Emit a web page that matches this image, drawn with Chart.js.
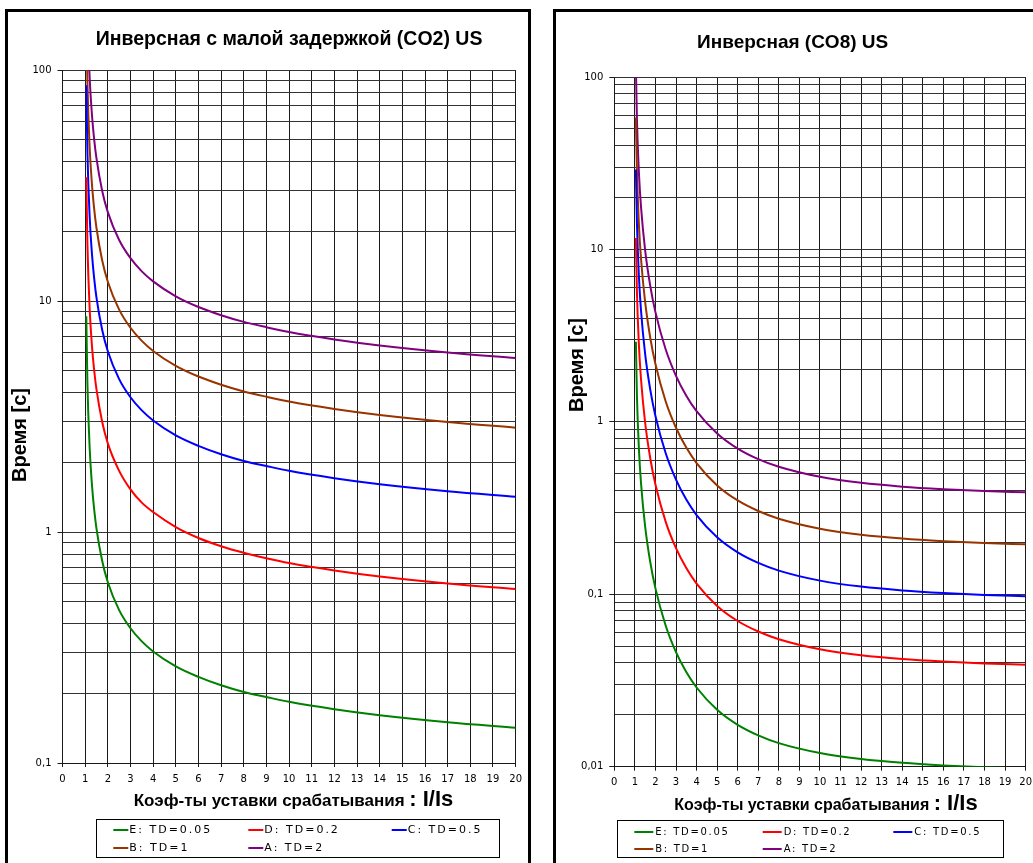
<!DOCTYPE html>
<html>
<head>
<meta charset="utf-8">
<script src="https://cdn.jsdelivr.net/npm/chart.js@4.4.0/dist/chart.umd.min.js"></script>
<style>
html,body{margin:0;padding:0;background:#fff;overflow:hidden;width:1033px;height:863px;}
.box{position:absolute;border:3px solid #000;box-sizing:border-box;background:#fff;}
canvas{position:absolute;}
</style>
</head>
<body>
<div class="box" style="left:5px;top:9px;width:526px;height:900px"></div>
<div class="box" style="left:553px;top:9px;width:500px;height:900px"></div>
<canvas id="c1" width="520" height="851" style="left:8px;top:12px"></canvas>
<canvas id="c2" width="482" height="851" style="left:556px;top:12px"></canvas>
<script>
// ---------- DATA ----------
const seriesNames = ['E: TD=0.05', 'D: TD=0.2', 'C: TD=0.5', 'B: TD=1', 'A: TD=2'];
const seriesColors = ['#008000', '#FF0000', '#0000FF', '#993300', '#800080'];
const xTickLabels = ['0','1','2','3','4','5','6','7','8','9','10','11','12','13','14','15','16','17','18','19','20'];

// Chart 1: short inverse (CO2) US
const titleCO2 = 'Инверсная с малой задержкой (CO2) US';
const yTickLabelsCO2 = ['0,1', '1', '10', '100'];
const multipleCO2 = [1.05,1.1,1.2,1.3,1.4,1.5,1.75,2,2.5,3,3.5,4,5,6,7,8,9,10,12,14,17,20];
const co2_E = [8.589,4.398,2.300,1.599,1.247,1.035,0.751,0.606,0.459,0.383,0.336,0.304,0.262,0.236,0.217,0.203,0.193,0.184,0.171,0.161,0.150,0.142];
const co2_D = [34.35,17.59,9.20,6.39,4.99,4.14,3.00,2.42,1.84,1.53,1.34,1.22,1.05,0.942,0.868,0.813,0.770,0.734,0.682,0.642,0.598,0.566];
const co2_C = [85.9,43.98,23.0,15.99,12.47,10.35,7.51,6.06,4.59,3.83,3.36,3.04,2.62,2.36,2.17,2.03,1.93,1.84,1.71,1.61,1.50,1.42];
const co2_B = [171.8,87.95,45.99,31.97,24.94,20.70,15.01,12.12,9.18,7.66,6.72,6.08,5.24,4.71,4.34,4.06,3.85,3.67,3.41,3.21,2.99,2.83];
const co2_A = [343.5,175.9,91.98,63.94,49.88,41.40,30.02,24.24,18.36,15.32,13.44,12.16,10.48,9.42,8.68,8.12,7.70,7.34,6.82,6.42,5.98,5.66];

// Chart 2: inverse (CO8) US
const titleCO8 = 'Инверсная (CO8) US';
const yTickLabelsCO8 = ['0,01', '0,1', '1', '10', '100'];
const multipleCO8 = [1.05,1.1,1.2,1.3,1.5,1.75,2,2.5,3,3.5,4,5,6,7,8,10,12,14,16,18,20];
const co8_E = [2.912,1.426,0.685,0.440,0.247,0.1533,0.1082,0.0657,0.0462,0.0354,0.0288,0.0214,0.0175,0.0152,0.0137,0.0120,0.01108,0.01053,0.01017,0.00992,0.00975];
const co8_D = [11.65,5.70,2.74,1.76,0.988,0.613,0.433,0.263,0.185,0.1418,0.1153,0.0856,0.0700,0.0608,0.0549,0.0480,0.0443,0.0421,0.0407,0.0397,0.0390];
const co8_C = [29.11,14.26,6.85,4.40,2.47,1.533,1.082,0.657,0.462,0.354,0.288,0.214,0.175,0.152,0.1372,0.1200,0.1108,0.1053,0.1017,0.0992,0.0975];
const co8_B = [58.23,28.51,13.70,8.80,4.94,3.065,2.163,1.313,0.924,0.709,0.577,0.428,0.350,0.304,0.2744,0.2401,0.2216,0.2105,0.2033,0.1984,0.1949];
const co8_A = [116.5,57.0,27.4,17.6,9.88,6.13,4.33,2.63,1.85,1.418,1.153,0.856,0.700,0.608,0.549,0.480,0.443,0.421,0.407,0.397,0.390];

const yAxisTitle = 'Время [с]';
const xAxisTitleMain = 'Коэф-ты уставки срабатывания ';
const xAxisTitleUnit = ': I/Is';

// ---------- HELPERS ----------
function isDecade(v) {
  const l = Math.log10(v);
  return Math.abs(l - Math.round(l)) < 1e-6;
}
function labelFromList(list, v) {
  for (const s of list) {
    const n = parseFloat(s.replace(',', '.'));
    if (Math.abs(n - v) / n < 1e-6) return s;
  }
  return '';
}
function logGridValues(min, max) {
  const out = [];
  const e0 = Math.round(Math.log10(min)), e1 = Math.round(Math.log10(max));
  for (let e = e0; e < e1; e++) {
    for (let s = 1; s <= 9; s++) out.push(parseFloat((s * Math.pow(10, e)).toPrecision(6)));
  }
  out.push(max);
  return out;
}

const decorPlugin = {
  id: 'decor',
  afterDraw(chart, args, o) {
    const ctx = chart.ctx, ca = chart.chartArea;
    // Y title
    ctx.save();
    ctx.fillStyle = '#000';
    ctx.font = 'bold 20px "Liberation Sans", Arial, sans-serif';
    ctx.translate(o.yTitleX, o.yTitleY);
    ctx.rotate(-Math.PI / 2);
    ctx.textAlign = 'center';
    ctx.textBaseline = 'middle';
    ctx.fillText(o.yTitle, 0, 0);
    ctx.restore();
    // X title (two font sizes)
    ctx.save();
    ctx.fillStyle = '#000';
    const f1 = 'bold ' + o.xMainSize + 'px "Liberation Sans", Arial, sans-serif';
    const f2 = 'bold ' + o.xUnitSize + 'px "Liberation Sans", Arial, sans-serif';
    ctx.font = f1; const w1 = ctx.measureText(o.xTitleMain).width;
    ctx.font = f2; const w2 = ctx.measureText(o.xTitleUnit).width;
    const x0 = o.xTitleCenter - (w1 + w2) / 2;
    const yb = ca.bottom + o.xTitleOffset;
    ctx.textAlign = 'left';
    ctx.textBaseline = 'alphabetic';
    ctx.font = f1; ctx.fillText(o.xTitleMain, x0, yb);
    ctx.font = f2; ctx.fillText(o.xTitleUnit, x0 + w1, yb);
    ctx.restore();
    // Legend
    const L = o.legend;
    ctx.save();
    ctx.strokeStyle = '#000';
    ctx.lineWidth = 1;
    ctx.strokeRect(Math.round(L.x) + 0.5, Math.round(L.y) + 0.5, L.w, L.h);
    ctx.font = L.font;
    try { ctx.letterSpacing = L.spacing; } catch (e) {}
    ctx.textAlign = 'left';
    ctx.textBaseline = 'middle';
    chart.data.datasets.forEach((ds, i) => {
      const col = i % 3, row = Math.floor(i / 3);
      const lx = L.x + L.cols[col], ly = Math.round(L.y + L.rows[row]);
      ctx.strokeStyle = ds.borderColor;
      ctx.lineWidth = 2;
      ctx.beginPath();
      ctx.moveTo(lx, ly);
      ctx.lineTo(lx + L.lineLen, ly);
      ctx.stroke();
      ctx.fillStyle = '#000';
      ctx.fillText(ds.label, lx + L.textOffset, ly + 0.5);
    });
    ctx.restore();
  }
};

function makeChart(id, cfg) {
  const datasets = seriesNames.map((name, i) => ({
    label: name,
    data: cfg.x.map((m, j) => ({ x: m, y: cfg.series[i][j] })),
    borderColor: seriesColors[i],
    backgroundColor: seriesColors[i],
    borderWidth: 2,
    pointRadius: 0,
    fill: false,
    cubicInterpolationMode: 'monotone'
  }));
  const gridVals = logGridValues(cfg.ymin, 100);
  return new Chart(document.getElementById(id), {
    type: 'line',
    data: { datasets },
    plugins: [decorPlugin],
    options: {
      responsive: false,
      animation: false,
      events: [],
      layout: { padding: cfg.padding },
      plugins: {
        legend: { display: false },
        tooltip: { enabled: false },
        title: {
          display: true,
          text: cfg.title,
          fullSize: cfg.titleFull,
          color: '#000',
          font: { family: '"Liberation Sans", Arial, sans-serif', size: cfg.titleSize, weight: 'bold' },
          padding: cfg.titlePad
        },
        decor: cfg.decor
      },
      scales: {
        x: {
          type: 'linear',
          min: 0, max: 20,
          afterFit(s) { s.height = 30; },
          ticks: {
            stepSize: 1, autoSkip: false, maxRotation: 0, padding: 6, color: '#000',
            font: { family: '"DejaVu Sans", sans-serif', size: 10 },
            callback: (v) => xTickLabels[Math.round(v)] ?? ''
          },
          grid: { color: '#1a1a1a', lineWidth: 1, tickLength: 4, tickColor: '#1a1a1a' },
          border: { color: '#1a1a1a', width: 1 }
        },
        y: {
          type: 'logarithmic',
          min: cfg.ymin, max: 100,
          afterFit(s) { s.width = cfg.yWidth; },
          afterBuildTicks(s) { s.ticks = gridVals.map(v => ({ value: v, major: isDecade(v) })); },
          ticks: {
            autoSkip: false, padding: 6, color: '#000',
            font: { family: '"DejaVu Sans", sans-serif', size: 10 },
            callback: (v) => isDecade(v) ? labelFromList(cfg.yLabels, v) : ''
          },
          grid: {
            color: '#333', lineWidth: 1, tickLength: 5,
            tickColor: (c) => (c.tick && isDecade(c.tick.value)) ? '#1a1a1a' : 'rgba(0,0,0,0)'
          },
          border: { color: '#1a1a1a', width: 1 }
        }
      }
    }
  });
}

makeChart('c1', {
  title: titleCO2, titleFull: false, titleSize: 19.5,
  titlePad: { top: 16.3, bottom: 18.3 },
  padding: { left: 0, top: 0, right: 12.3, bottom: 70 },
  yWidth: 54.5, ymin: 0.1, yLabels: yTickLabelsCO2,
  x: multipleCO2, series: [co2_E, co2_D, co2_C, co2_B, co2_A],
  decor: {
    yTitle: yAxisTitle, yTitleX: 12, yTitleY: 423,
    xTitleMain: xAxisTitleMain, xTitleUnit: xAxisTitleUnit, xTitleCenter: 285.5, xTitleOffset: 43,
    xMainSize: 17, xUnitSize: 22,
    legend: { x: 88, y: 807, w: 403, h: 38, cols: [17.3, 152.3, 295.7], rows: [10.5, 29], lineLen: 15, textOffset: 16,
              font: '11px "DejaVu Sans", sans-serif', spacing: '2px' }
  }
});

makeChart('c2', {
  title: titleCO8, titleFull: true, titleSize: 19,
  titlePad: { top: 19.6, bottom: 22.6 },
  padding: { left: 0, top: 0, right: 8.7, bottom: 66.3 },
  yWidth: 58.3, ymin: 0.01, yLabels: yTickLabelsCO8,
  x: multipleCO8, series: [co8_E, co8_D, co8_C, co8_B, co8_A],
  decor: {
    yTitle: yAxisTitle, yTitleX: 21, yTitleY: 353,
    xTitleMain: xAxisTitleMain, xTitleUnit: xAxisTitleUnit, xTitleCenter: 270, xTitleOffset: 43,
    xMainSize: 16, xUnitSize: 22,
    legend: { x: 61, y: 808, w: 386, h: 37, cols: [17.3, 145.7, 276.3], rows: [11.5, 29], lineLen: 19, textOffset: 21,
              font: '10px "DejaVu Sans", sans-serif', spacing: '1.7px' }
  }
});
</script>
</body>
</html>
